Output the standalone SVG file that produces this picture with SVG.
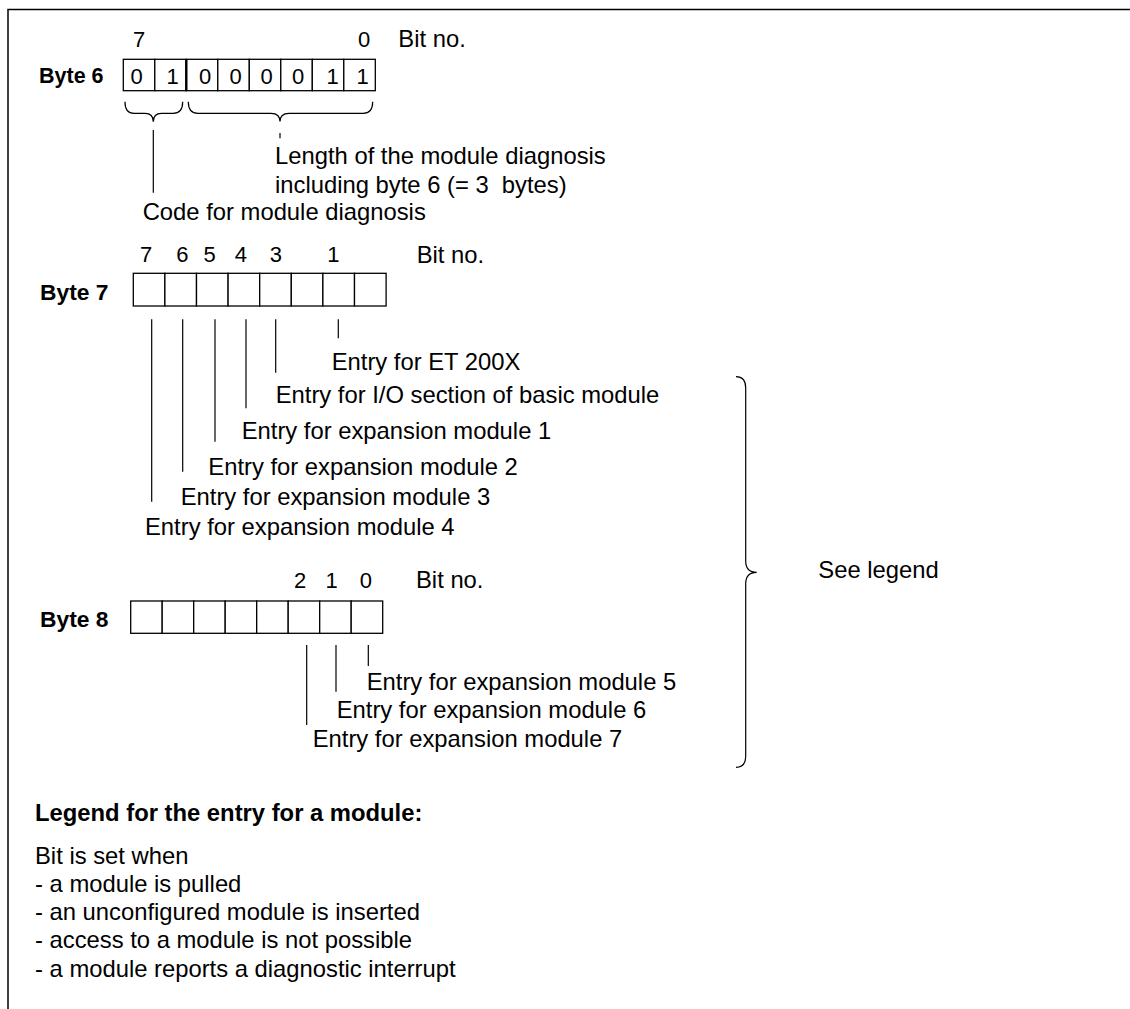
<svg xmlns="http://www.w3.org/2000/svg" width="1130" height="1009" viewBox="0 0 1130 1009">
<style>
text{font-family:"Liberation Sans",Arial,sans-serif;fill:#000}
.t{font-size:23.8px}
.d{font-size:22px}
.dm{font-size:22px;text-anchor:middle}
.b{font-size:22.8px;font-weight:bold}
.lg{font-size:23.8px;font-weight:bold}
.cell{fill:#fff;stroke:#000;stroke-width:1.3}
.ln{stroke:#000;stroke-width:1.2;fill:none}
</style>
<rect width="1130" height="1009" fill="#fff"/>
<path d="M8,1009 V9.5 H1130" fill="none" stroke="#000" stroke-width="1.5"/>

<g id="byte6">
<text class="b" x="39" y="83.3" style="font-size:21.5px">Byte 6</text>
<text class="dm" x="139" y="46.7">7</text>
<text class="dm" x="364" y="46.7">0</text>
<text class="t" x="398.3" y="46.7">Bit no.</text>
<g class="cell">
<rect x="123.3" y="59.3" width="31.5" height="31.4"/>
<rect x="154.8" y="59.3" width="31.5" height="31.4"/>
<rect x="186.3" y="59.3" width="31.5" height="31.4"/>
<rect x="217.8" y="59.3" width="31.5" height="31.4"/>
<rect x="249.3" y="59.3" width="31.5" height="31.4"/>
<rect x="280.8" y="59.3" width="31.5" height="31.4"/>
<rect x="312.3" y="59.3" width="31.5" height="31.4"/>
<rect x="343.8" y="59.3" width="31.5" height="31.4"/>
</g>
<line x1="186.3" y1="59.3" x2="186.3" y2="90.7" stroke="#000" stroke-width="2.4"/>
<text class="dm" x="136.5" y="84">0</text>
<text class="dm" x="172.5" y="84">1</text>
<text class="dm" x="205" y="84">0</text>
<text class="dm" x="235.5" y="84">0</text>
<text class="dm" x="266.7" y="84">0</text>
<text class="dm" x="298" y="84">0</text>
<text class="dm" x="332.5" y="84">1</text>
<text class="dm" x="362.5" y="84">1</text>
</g>

<g id="byte6-labels">
<text class="t" x="275" y="164">Length of the module diagnosis</text>
<text class="t" x="275" y="192.7">including byte 6 (= 3&#160; bytes)</text>
<text class="t" x="142.7" y="219.5">Code for module diagnosis</text>
</g>

<g id="byte7">
<text class="b" x="40" y="300">Byte 7</text>
<text class="dm" x="146" y="262.3">7</text>
<text class="dm" x="182.3" y="262.3">6</text>
<text class="dm" x="209.5" y="262.3">5</text>
<text class="dm" x="240.8" y="262.3">4</text>
<text class="dm" x="275.8" y="262.3">3</text>
<text class="dm" x="333.3" y="262.3">1</text>
<text class="t" x="416.7" y="263.3">Bit no.</text>
<g class="cell">
<rect x="133.3" y="273.3" width="31.6" height="32.7"/>
<rect x="164.9" y="273.3" width="31.6" height="32.7"/>
<rect x="196.5" y="273.3" width="31.6" height="32.7"/>
<rect x="228.1" y="273.3" width="31.6" height="32.7"/>
<rect x="259.7" y="273.3" width="31.6" height="32.7"/>
<rect x="291.3" y="273.3" width="31.6" height="32.7"/>
<rect x="322.9" y="273.3" width="31.6" height="32.7"/>
<rect x="354.5" y="273.3" width="31.6" height="32.7"/>
</g>
</g>

<g id="byte7-labels">
<text class="t" x="331.7" y="370">Entry for ET 200X</text>
<text class="t" x="275.7" y="403.3">Entry for I/O section of basic module</text>
<text class="t" x="241.7" y="439.3">Entry for expansion module 1</text>
<text class="t" x="208.3" y="475">Entry for expansion module 2</text>
<text class="t" x="180.7" y="505">Entry for expansion module 3</text>
<text class="t" x="145" y="535">Entry for expansion module 4</text>
</g>

<g id="byte8">
<text class="b" x="40" y="627.3">Byte 8</text>
<text class="dm" x="300" y="588.3">2</text>
<text class="dm" x="331.6" y="588.3">1</text>
<text class="dm" x="365.8" y="588.3">0</text>
<text class="t" x="416" y="588.3">Bit no.</text>
<g class="cell">
<rect x="130.7" y="601" width="31.5" height="32.3"/>
<rect x="162.2" y="601" width="31.5" height="32.3"/>
<rect x="193.7" y="601" width="31.5" height="32.3"/>
<rect x="225.2" y="601" width="31.5" height="32.3"/>
<rect x="256.7" y="601" width="31.5" height="32.3"/>
<rect x="288.2" y="601" width="31.5" height="32.3"/>
<rect x="319.7" y="601" width="31.5" height="32.3"/>
<rect x="351.2" y="601" width="31.5" height="32.3"/>
</g>
</g>

<g id="byte8-labels">
<text class="t" x="366.7" y="690">Entry for expansion module 5</text>
<text class="t" x="336.7" y="718.3">Entry for expansion module 6</text>
<text class="t" x="312.7" y="746.7">Entry for expansion module 7</text>
</g>

<g id="see-legend">
<text class="t" x="818.3" y="578.3">See legend</text>
</g>

<g id="legend">
<text class="lg" x="35" y="820.7">Legend for the entry for a module:</text>
<text class="t" x="35" y="864">Bit is set when</text>
<text class="t" x="35" y="891.7">- a module is pulled</text>
<text class="t" x="35" y="920">- an unconfigured module is inserted</text>
<text class="t" x="35" y="948.3">- access to a module is not possible</text>
<text class="t" x="35" y="976.7">- a module reports a diagnostic interrupt</text>
</g>

<g id="connectors" class="ln">
<path d="M125,101.7 Q125,113.3 134,113.3 L145,113.3 Q153.3,113.3 153.3,121.7 Q153.3,113.3 161.5,113.3 L173,113.3 Q182.7,113.3 182.7,101.7"/>
<path d="M188.3,101.7 Q188.3,113.3 198,113.3 L271,113.3 Q280,113.3 280,121.5 Q280,113.3 289,113.3 L363,113.3 Q372.7,113.3 372.7,101.7"/>
<line x1="153.3" y1="130" x2="153.3" y2="192.7"/>
<line x1="280" y1="133" x2="280" y2="138.3"/>
<line x1="151.7" y1="319.3" x2="151.7" y2="501.7"/>
<line x1="182.7" y1="319.3" x2="182.7" y2="471.7"/>
<line x1="215" y1="319.3" x2="215" y2="441.7"/>
<line x1="246" y1="319.3" x2="246" y2="408.3"/>
<line x1="275.7" y1="319.3" x2="275.7" y2="372.7"/>
<line x1="338.3" y1="319.3" x2="338.3" y2="338.3"/>
<line x1="306.7" y1="645" x2="306.7" y2="725"/>
<line x1="336" y1="645" x2="336" y2="691.7"/>
<line x1="368.3" y1="645" x2="368.3" y2="666"/>
<path d="M736,376.7 Q745.7,376.7 745.7,388 L745.7,561 Q745.7,572.3 756.7,572.3 Q745.7,572.3 745.7,583.6 L745.7,756 Q745.7,767.3 736,767.3"/>
</g>
</svg>
